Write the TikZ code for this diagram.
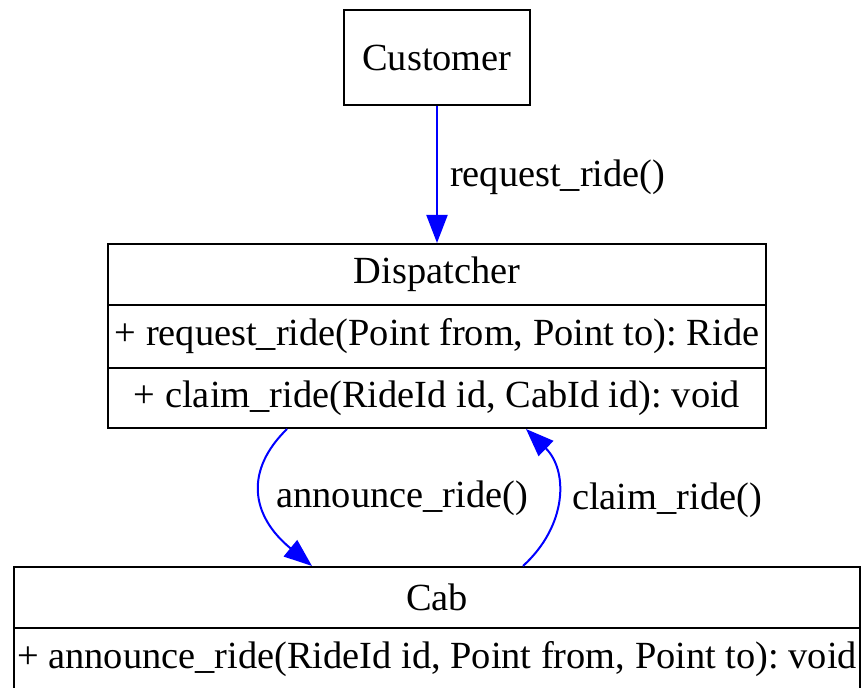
\documentclass[tikz,border=0pt]{standalone}
\usepackage{fontspec}
\setmainfont{Liberation Serif}
\usetikzlibrary{arrows.meta}
\frenchspacing

\begin{document}
\begin{tikzpicture}[x=0.5pt, y=-0.5pt,
    every node/.style={font=\fontsize{19.2}{22}\selectfont},
    box/.style={draw, line width=1pt, inner sep=0pt, anchor=center},
    link/.style={draw=blue, line width=1pt, -{Triangle[length=14pt,width=10.5pt]}, fill=none},
    lbl/.style={inner sep=0pt, text=black}]
% cadre : 863 x 688 px
\useasboundingbox (0,0) rectangle (863,688);

% les classes
\node[box, minimum width=93pt, minimum height=47.5pt] (cust) at (437,57.5) {Customer};

\node[box, minimum width=329pt, minimum height=30.5pt] (disp) at (437,274.5) {Dispatcher};
\node[box, minimum width=329pt, minimum height=31.5pt] (disp1) at (437,336.5) {+ request\_ride(Point from, Point to): Ride};
\node[box, minimum width=329pt, minimum height=30pt] (disp2) at (437,398) {+ claim\_ride(RideId id, CabId id): void};

\node[box, minimum width=423pt, minimum height=30.5pt] (cab) at (437,597.5) {Cab};
\node[box, minimum width=423pt, minimum height=31pt] (cab1) at (437,659) {\makebox[0pt]{+ announce\_ride(RideId id, Point from, Point to): void}};

% les messages
\draw[link] (cust) -- (disp) node[lbl, midway, right=6pt, yshift=-1.5pt] {request\_ride()};
\draw[link] ([xshift=-75pt]disp2.south) .. controls (245,470) and (250,515) .. ([xshift=-62.5pt]cab.north)
    node[lbl, pos=0.5, right=7.5pt, yshift=-2.5pt] {announce\_ride()};
\draw[link] ([xshift=43pt]cab.north) .. controls (568,525) and (568,470) .. ([xshift=44.5pt]disp2.south)
    node[lbl, pos=0.5, right=7pt, yshift=-1.5pt] {claim\_ride()};
\end{tikzpicture}
\end{document}
